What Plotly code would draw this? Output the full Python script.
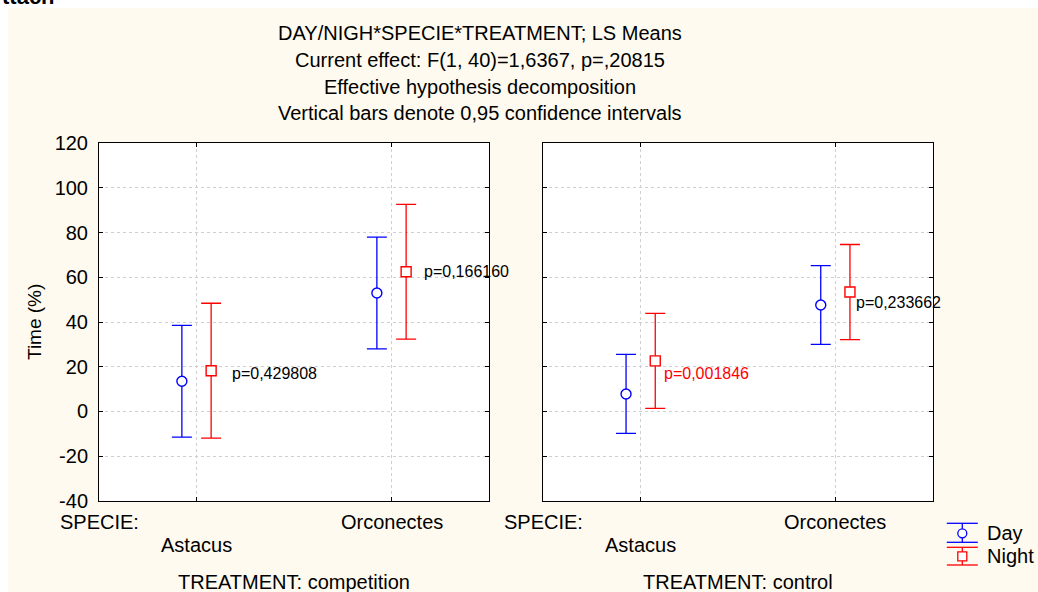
import plotly.graph_objects as go

W, H = 1038, 592
FONT = "Liberation Sans, Arial, sans-serif"

# ---- data -------------------------------------------------------------
species = ["Astacus", "Orconectes"]
treatments = ["competition", "control"]

# LS means (%) and 0.95 confidence half-widths, ordered as `species`
day_mean = {"competition": [13.5, 53.0], "control": [7.8, 47.6]}
day_ci = {"competition": [25.0, 25.0], "control": [17.7, 17.6]}
night_mean = {"competition": [18.2, 62.5], "control": [22.6, 53.4]}
night_ci = {"competition": [30.2, 30.2], "control": [21.3, 21.3]}

# Day vs night comparison p-values for each species
p_text = {"competition": ["p=0,429808", "p=0,166160"],
          "control": ["p=0,001846", "p=0,233662"]}
p_color = {"competition": ["black", "black"], "control": ["red", "black"]}

y_ticks = [-40, -20, 0, 20, 40, 60, 80, 100, 120]

title_lines = [
    "DAY/NIGH*SPECIE*TREATMENT; LS Means",
    "Current effect: F(1, 40)=1,6367, p=,20815",
    "Effective hypothesis decomposition",
    "Vertical bars denote 0,95 confidence intervals",
]

# ---- layout helpers ---------------------------------------------------
def fx(px):
    return px / W


def fy(py):
    return 1 - py / H


BLUE = "#0000FF"
RED = "#FF0000"
cat_x = [0.5, 1.5]
shift = 0.075

# where each p-value label starts, relative to the night point (data units)
p_offset = {"competition": [(0.097, -1.4), (0.08, 0.0)],
            "control": [(0.033, -5.8), (0.021, -4.7)]}

fig = go.Figure()
annotations = []
shapes = []

for i, tr in enumerate(treatments):
    xa = "x" if i == 0 else "x2"
    ya = "y" if i == 0 else "y2"
    fig.add_trace(go.Scatter(
        x=[c - shift for c in cat_x], y=day_mean[tr],
        error_y=dict(type="data", array=day_ci[tr], color=BLUE,
                     thickness=1.3, width=10),
        mode="markers", name="Day", showlegend=False,
        marker=dict(symbol="circle", size=10, color="white",
                    line=dict(color=BLUE, width=1.4)),
        xaxis=xa, yaxis=ya, cliponaxis=False,
    ))
    fig.add_trace(go.Scatter(
        x=[c + shift for c in cat_x], y=night_mean[tr],
        error_y=dict(type="data", array=night_ci[tr], color=RED,
                     thickness=1.3, width=10),
        mode="markers", name="Night", showlegend=False,
        marker=dict(symbol="square", size=10, color="white",
                    line=dict(color=RED, width=1.4)),
        xaxis=xa, yaxis=ya, cliponaxis=False,
    ))
    for k in range(len(species)):
        dx, dy = p_offset[tr][k]
        annotations.append(dict(
            x=cat_x[k] + shift + dx, y=night_mean[tr][k] + dy,
            xref=xa, yref=ya, text=p_text[tr][k], showarrow=False,
            xanchor="left", yanchor="middle",
            font=dict(size=16, color=p_color[tr][k], family=FONT),
        ))

# panel geometry (pixels)
panels = [(99, 489), (543.3, 932.7)]
top_px, bot_px = 143.3, 500.7

axis_common = dict(
    showline=True, linecolor="black", linewidth=1, mirror="allticks",
    ticks="inside", ticklen=4, tickcolor="black", tickwidth=1,
    showgrid=True, gridcolor="#CFCFCF", griddash="dot", gridwidth=1,
    zeroline=False, fixedrange=True,
)

fig.update_layout(
    xaxis=dict(domain=[fx(panels[0][0]), fx(panels[0][1])], range=[0, 2],
               tickvals=cat_x, showticklabels=False, anchor="y", **axis_common),
    xaxis2=dict(domain=[fx(panels[1][0]), fx(panels[1][1])], range=[0, 2],
                tickvals=cat_x, showticklabels=False, anchor="y2", **axis_common),
    yaxis=dict(domain=[fy(bot_px), fy(top_px)], range=[-40, 120],
               tickvals=y_ticks, ticktext=[str(v) for v in y_ticks],
               tickfont=dict(size=20, family=FONT, color="black"),
               ticklabelstandoff=6, anchor="x", **axis_common),
    yaxis2=dict(domain=[fy(bot_px), fy(top_px)], range=[-40, 120],
                tickvals=y_ticks, showticklabels=False, anchor="x2",
                **axis_common),
)

# title block
for line, py in zip(title_lines, [33.5, 60, 86.5, 113]):
    annotations.append(dict(
        x=fx(480), y=fy(py), xref="paper", yref="paper", text=line,
        showarrow=False, xanchor="center", yanchor="middle",
        font=dict(size=20, color="black", family=FONT)))

# y-axis title
annotations.append(dict(
    x=fx(34), y=fy(322), xref="paper", yref="paper", text="Time (%)",
    showarrow=False, textangle=-90, xanchor="center", yanchor="middle",
    font=dict(size=19, color="black", family=FONT)))

# category labels and treatment captions under each panel
label_rows = [522, 545]
for i, tr in enumerate(treatments):
    xa = "x" if i == 0 else "x2"
    left, right = panels[i]
    annotations.append(dict(
        x=fx(left - 41), y=fy(522), xref="paper", yref="paper",
        text="SPECIE:", showarrow=False, xanchor="left", yanchor="middle",
        font=dict(size=20, color="black", family=FONT)))
    for k, sp in enumerate(species):
        annotations.append(dict(
            x=cat_x[k], y=fy(label_rows[1 - k]), xref=xa, yref="paper",
            text=sp, showarrow=False, xanchor="center", yanchor="middle",
            font=dict(size=20, color="black", family=FONT)))
    annotations.append(dict(
        x=fx((left + right) / 2), y=fy(582), xref="paper", yref="paper",
        text="TREATMENT: " + tr, showarrow=False, xanchor="center",
        yanchor="middle", font=dict(size=20, color="black", family=FONT)))

# legend: error-bar glyphs with labels
legend_items = [("Day", BLUE, "circle", 523.3, 533.3, 542.3),
                ("Night", RED, "rect", 547.3, 556.3, 565.0)]
gx, half_cap, half_mk = 962.3, 15.5, 4.5
for name, col, kind, y_top, y_mid, y_bot in legend_items:
    line = dict(color=col, width=1.3)
    shapes.append(dict(type="line", xref="paper", yref="paper",
                       x0=fx(gx), x1=fx(gx), y0=fy(y_top), y1=fy(y_bot), line=line))
    for yy in (y_top, y_bot):
        shapes.append(dict(type="line", xref="paper", yref="paper",
                           x0=fx(gx - half_cap), x1=fx(gx + half_cap),
                           y0=fy(yy), y1=fy(yy), line=line))
    shapes.append(dict(type=kind, xref="paper", yref="paper",
                       x0=fx(gx - half_mk), x1=fx(gx + half_mk),
                       y0=fy(y_mid + half_mk), y1=fy(y_mid - half_mk),
                       fillcolor="white", line=line))
    annotations.append(dict(
        x=fx(985), y=fy(y_mid), xref="paper", yref="paper", text=name,
        showarrow=False, xanchor="left", yanchor="middle",
        font=dict(size=20, color="black", family=FONT)))

# white page strip around the ivory chart sheet
shapes.append(dict(type="rect", xref="paper", yref="paper", layer="below",
                   x0=0, x1=1, y0=fy(8), y1=1, fillcolor="white", line_width=0))
shapes.append(dict(type="rect", xref="paper", yref="paper", layer="below",
                   x0=0, x1=fx(8), y0=0, y1=1, fillcolor="white", line_width=0))

# caption text running off the top of the page
annotations.append(dict(
    x=fx(0), y=fy(11), xref="paper", yref="paper", text="<b>ttach</b>",
    showarrow=False, xanchor="left", yanchor="bottom",
    font=dict(size=22, color="black", family=FONT)))

fig.update_layout(
    width=W, height=H,
    margin=dict(l=0, r=0, t=0, b=0, pad=0, autoexpand=False),
    paper_bgcolor="#FFFAEF",
    plot_bgcolor="white",
    showlegend=False,
    annotations=annotations,
    shapes=shapes,
    font=dict(family=FONT, color="black"),
)

fig.write_html("out.html", config={"displayModeBar": False})
